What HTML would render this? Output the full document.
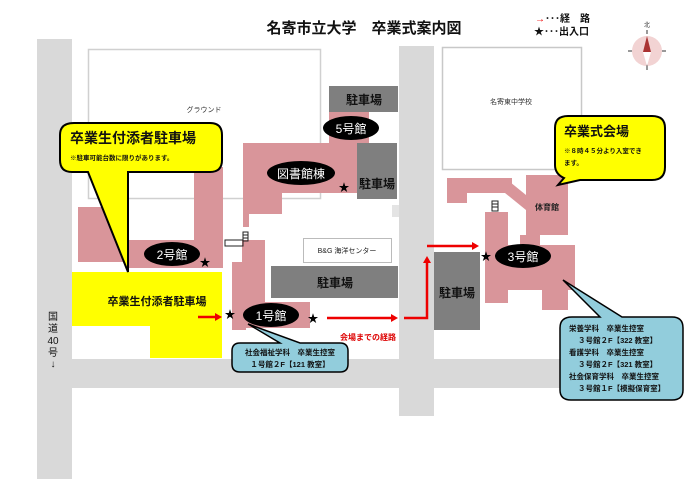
<!DOCTYPE html>
<html><head><meta charset="utf-8"><style>
html,body{margin:0;padding:0;background:#fff;width:700px;height:494px;overflow:hidden}
svg{display:block;font-family:"Liberation Sans","Noto Sans CJK JP",sans-serif}
</style></head><body>
<svg width="700" height="494" viewBox="0 0 700 494" xmlns="http://www.w3.org/2000/svg">
<!-- roads -->
<rect x="37" y="39" width="35" height="440" fill="#d9d9d9"/>
<rect x="72" y="359" width="610" height="29" fill="#d9d9d9"/>
<rect x="399" y="46" width="35" height="370" fill="#d9d9d9"/>
<rect x="392" y="205" width="7" height="12" fill="#e4e4e4"/>
<!-- ground & school -->
<rect x="88.5" y="49.5" width="232" height="149" fill="none" stroke="#d0d0d0" stroke-width="1.5"/>
<text x="204" y="112" font-size="7" text-anchor="middle" fill="#333">グラウンド</text>
<rect x="442.5" y="47.5" width="139" height="122" fill="none" stroke="#c8c8c8" stroke-width="1.5"/>
<text x="511" y="104" font-size="7" text-anchor="middle" fill="#333">名寄東中学校</text>
<!-- pink buildings -->
<g fill="#d9959a">
<rect x="329" y="112" width="40" height="32"/>
<rect x="243" y="143" width="114" height="50"/>
<rect x="243" y="192" width="39" height="22"/>
<rect x="243" y="213" width="6" height="14"/>
<rect x="194" y="167" width="29" height="73"/>
<rect x="78" y="207" width="50" height="55"/>
<rect x="128" y="240" width="95" height="28"/>
<rect x="242" y="240" width="23" height="62"/>
<rect x="232" y="262" width="14" height="68"/>
<rect x="232" y="302" width="78" height="26"/>
<rect x="447" y="178" width="65" height="15"/>
<rect x="447" y="193" width="20" height="10"/>
<polygon points="505,178 526,195 526,210 505,193"/>
<rect x="526" y="175" width="42" height="60"/>
<rect x="485" y="212" width="23" height="91"/>
<rect x="520" y="235" width="20" height="10"/>
<rect x="508" y="245" width="67" height="45"/>
<rect x="542" y="290" width="26" height="20"/>
</g>
<!-- dark parking -->
<g fill="#7f7f7f">
<rect x="329" y="86" width="69" height="26"/>
<rect x="357" y="143" width="40" height="56"/>
<rect x="271" y="266" width="127" height="32"/>
<rect x="434" y="252" width="46" height="78"/>
</g>
<g font-size="12" font-weight="bold" fill="#111" text-anchor="middle">
<text x="364" y="104">駐車場</text>
<text x="377" y="188">駐車場</text>
<text x="335" y="287">駐車場</text>
<text x="457" y="297">駐車場</text>
</g>
<!-- B&G -->
<rect x="303.5" y="238.5" width="88" height="24" fill="#fff" stroke="#bbb"/>
<text x="347" y="253" font-size="7" text-anchor="middle" fill="#222">B&amp;G 海洋センター</text>
<!-- stairs -->
<g fill="none" stroke="#222" stroke-width="1">
<rect x="243" y="232" width="5" height="9"/>
<line x1="243" y1="235" x2="248" y2="235"/><line x1="243" y1="238" x2="248" y2="238"/>
<rect x="225" y="240" width="18" height="6"/>
<rect x="492" y="201" width="6" height="10"/>
<line x1="492" y1="204" x2="498" y2="204"/><line x1="492" y1="207" x2="498" y2="207"/>
</g>
<!-- yellow parking -->
<polygon points="72,272 222,272 222,358 150,358 150,326 72,326" fill="#ffff00"/>
<text x="157" y="305" font-size="11" font-weight="bold" text-anchor="middle" fill="#111">卒業生付添者駐車場</text>
<!-- yellow callout left -->
<path d="M74,123 L210,123 Q222,123 222,135 L222,160 Q222,172 210,172 L128,172 L128,272 L88,172 L72,172 Q60,172 60,160 L60,135 Q60,123 74,123 Z" fill="#ffff00" stroke="#000" stroke-width="2"/>
<text x="70" y="143" font-size="14" font-weight="bold" fill="#111">卒業生付添者駐車場</text>
<text x="70" y="160" font-size="6.5" font-weight="bold" fill="#111">※駐車可能台数に限りがあります。</text>
<!-- yellow callout right -->
<path d="M568,116 L652,116 Q665,116 665,128 L665,167 Q665,180 652,180 L580,180 L558,185 L564,178 Q555,174 555,165 L555,128 Q555,116 568,116 Z" fill="#ffff00" stroke="#000" stroke-width="2"/>
<text x="564" y="136" font-size="13" font-weight="bold" fill="#111">卒業式会場</text>
<text x="564" y="153" font-size="6.5" font-weight="bold" fill="#111">※８時４５分より入室でき</text>
<text x="564" y="165" font-size="6.5" font-weight="bold" fill="#111">ます。</text>
<text x="547" y="210" font-size="8" font-weight="bold" text-anchor="middle" fill="#222">体育館</text>
<!-- blue callouts -->
<path d="M240,343 L280,343 L248,324 L300,343 L340,343 Q348,343 348,351 L348,364 Q348,372 340,372 L240,372 Q232,372 232,364 L232,351 Q232,343 240,343 Z" fill="#92cddc" stroke="#000" stroke-width="1.5"/>
<text x="290" y="355" font-size="7.5" font-weight="bold" text-anchor="middle" fill="#111">社会福祉学科　卒業生控室</text>
<text x="290" y="367" font-size="7.5" font-weight="bold" text-anchor="middle" fill="#111">１号館２F【121 教室】</text>
<path d="M572,317 L600,317 L563,280 L622,317 L672,317 Q683,317 683,328 L683,390 Q683,400 672,400 L571,400 Q560,400 560,390 L560,328 Q560,317 572,317 Z" fill="#92cddc" stroke="#000" stroke-width="1.5"/>
<g font-size="7.5" font-weight="bold" fill="#111">
<text x="569" y="331">栄養学科　卒業生控室</text>
<text x="578" y="343">３号館２F【322 教室】</text>
<text x="569" y="355">看護学科　卒業生控室</text>
<text x="578" y="367">３号館２F【321 教室】</text>
<text x="569" y="379">社会保育学科　卒業生控室</text>
<text x="578" y="391">３号館１F【模擬保育室】</text>
</g>
<!-- black ovals -->
<g fill="#000">
<ellipse cx="351" cy="128" rx="28" ry="12"/>
<ellipse cx="301" cy="173" rx="34" ry="12"/>
<ellipse cx="172" cy="254" rx="28" ry="12"/>
<ellipse cx="271" cy="315" rx="28" ry="12"/>
<ellipse cx="523" cy="256" rx="28" ry="12"/>
</g>
<g font-size="12" fill="#fff" text-anchor="middle">
<text x="351" y="133">5号館</text>
<text x="301" y="178">図書館棟</text>
<text x="172" y="259">2号館</text>
<text x="271" y="320">1号館</text>
<text x="523" y="261">3号館</text>
</g>
<!-- stars -->
<g font-size="11" fill="#000" text-anchor="middle">
<text x="344" y="191">★</text>
<text x="205" y="266">★</text>
<text x="230" y="318">★</text>
<text x="313" y="322">★</text>
<text x="486" y="260">★</text>
</g>
<!-- red arrows -->
<g stroke="#e00" stroke-width="2.5" fill="none">
<line x1="198" y1="317" x2="217" y2="317"/>
<line x1="327" y1="318" x2="393" y2="318"/>
<polyline points="404,318 427,318 427,262"/>
<line x1="427" y1="246" x2="473" y2="246"/>
</g>
<g fill="#e00">
<polygon points="222,317 215,313 215,321"/>
<polygon points="398,318 391,314 391,322"/>
<polygon points="427,256 423,263 431,263"/>
<polygon points="479,246 472,242 472,250"/>
</g>
<text x="340" y="340" font-size="8" font-weight="bold" fill="#d00">会場までの経路</text>
<!-- route 40 -->
<g font-size="10" fill="#111" text-anchor="middle">
<text x="53" y="320">国</text><text x="53" y="332">道</text><text x="53" y="344">40</text><text x="53" y="356">号</text><text x="53" y="367">↓</text>
</g>
<!-- title & legend -->
<text x="364" y="33" font-size="15" font-weight="bold" text-anchor="middle" fill="#111">名寄市立大学　卒業式案内図</text>
<text x="535" y="22" font-size="10" font-weight="bold" fill="#111"><tspan fill="#e00">→</tspan>･･･経　路</text>
<text x="534" y="35" font-size="10" font-weight="bold" fill="#111">★･･･出入口</text>
<!-- compass -->
<circle cx="647" cy="51" r="15" fill="#f2d3d3"/>
<line x1="628" y1="51" x2="632" y2="51" stroke="#333"/><line x1="662" y1="51" x2="666" y2="51" stroke="#333"/>
<line x1="647" y1="63" x2="647" y2="70" stroke="#333"/><line x1="647" y1="30" x2="647" y2="34" stroke="#333"/>
<polygon points="647,36 643,52 651,52" fill="#a33"/>
<polygon points="647,66 643,52 651,52" fill="#fff"/>
<text x="647" y="27" font-size="6" text-anchor="middle" fill="#333">北</text>
</svg>
</body></html>
